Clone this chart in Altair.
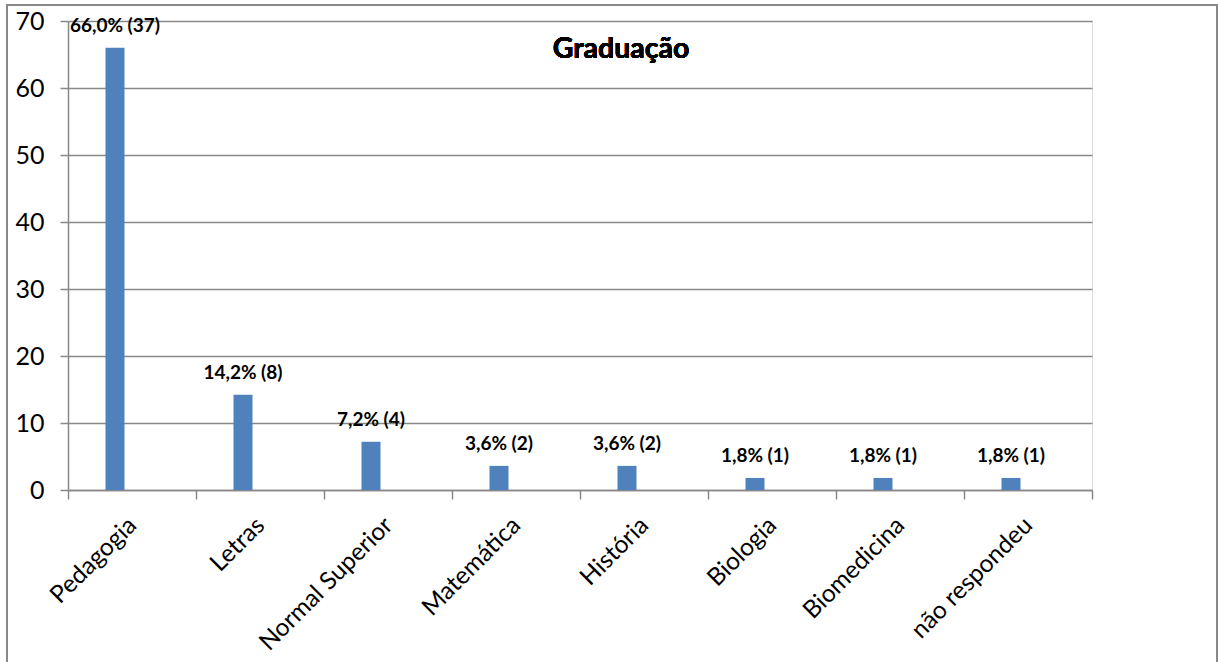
import altair as alt
import pandas as pd

# Graduation course of respondents: share (%) and head count
courses = ["Pedagogia", "Letras", "Normal Superior", "Matemática",
           "História", "Biologia", "Biomedicina", "não respondeu"]
percent = [66.0, 14.2, 7.2, 3.6, 3.6, 1.8, 1.8, 1.8]
counts = [37, 8, 4, 2, 2, 1, 1, 1]

labels = [f"{p:.1f}".replace(".", ",") + f"% ({n})" for p, n in zip(percent, counts)]
df = pd.DataFrame({"curso": courses, "pct": percent, "rotulo": labels})

FONT = "Lato"
GRAY = "#888888"
SHIFT = -17  # bars sit left of the category centre

x_enc = alt.X("curso:N", sort=courses, title=None,
              scale=alt.Scale(paddingInner=0, paddingOuter=0),
              axis=alt.Axis(labelAngle=-45, labelFontSize=24.5, labelFont=FONT,
                            labelColor="#000000", labelPadding=14,
                            labelOffset=-8,
                            tickSize=9, tickColor=GRAY, tickWidth=1.5,
                            tickBand="extent", domainColor=GRAY,
                            domainWidth=1.5, grid=False, labelLimit=400))
y_enc = alt.Y("pct:Q", title=None,
              scale=alt.Scale(domain=[0, 70], nice=False),
              axis=alt.Axis(values=list(range(0, 71, 10)), labelFontSize=25,
                            labelFont=FONT, labelColor="#000000",
                            labelPadding=16, tickSize=8, tickColor=GRAY,
                            tickWidth=1.5, domainColor=GRAY, domainWidth=1.5,
                            grid=True, gridColor=GRAY, gridWidth=1.5))

bars = alt.Chart(df).mark_bar(size=19, color="#4F81BD", xOffset=SHIFT).encode(
    x=x_enc, y=y_enc)

values = alt.Chart(df).mark_text(font=FONT, fontSize=19, fontWeight="bold",
                                 color="#000000", baseline="alphabetic",
                                 dx=SHIFT, dy=-16).encode(
    x=alt.X("curso:N", sort=courses),
    y="pct:Q",
    text="rotulo:N")

title = alt.Chart(df).mark_text(font=FONT, fontSize=28.5, fontWeight="bold",
                                color="#000000", align="center",
                                baseline="alphabetic").encode(
    x=alt.value(553), y=alt.value(37), text=alt.value("Graduação"))

# outer frame around the whole figure
frame = alt.Chart(df).mark_rect(fill=None, stroke=GRAY, strokeWidth=1.5).encode(
    x=alt.value(-61), x2=alt.value(1149), y=alt.value(-16), y2=alt.value(700))

chart = alt.layer(frame, bars, values, title).properties(
    width=1024, height=469,
    autosize=alt.AutoSizeParams(type="none"),
    padding={"left": 68, "top": 21, "right": 126, "bottom": 172},
).configure_view(stroke=None).configure(background="white")

chart.save("out.html", embed_options={"renderer": "svg", "actions": False})
